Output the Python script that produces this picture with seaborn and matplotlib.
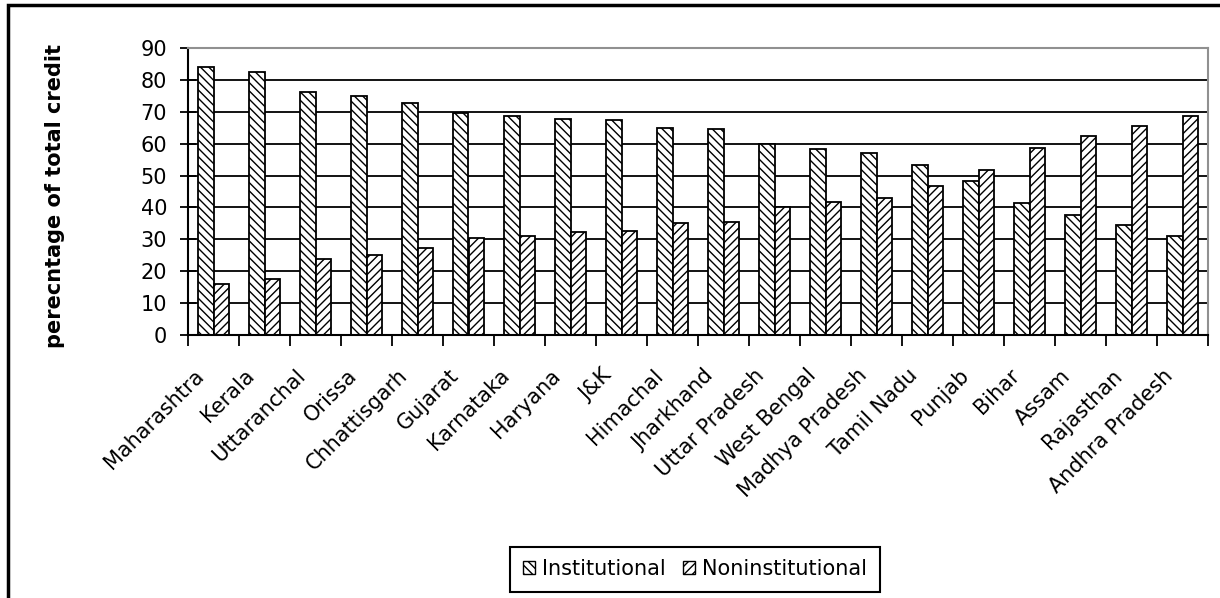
"""
Institutional vs non-institutional credit by state
"""

import pandas as pd
import seaborn as sns
import matplotlib.pyplot as plt
from matplotlib.patches import Patch, Rectangle
from matplotlib.transforms import ScaledTranslation

states = ["Maharashtra", "Kerala", "Uttaranchal", "Orissa", "Chhattisgarh",
          "Gujarat", "Karnataka", "Haryana", "J&K", "Himachal", "Jharkhand",
          "Uttar Pradesh", "West Bengal", "Madhya Pradesh", "Tamil Nadu",
          "Punjab", "Bihar", "Assam", "Rajasthan", "Andhra Pradesh"]
institutional = [84.0, 82.5, 76.3, 75.0, 72.6, 69.5, 68.8, 67.6, 67.5, 65.0,
                 64.5, 60.0, 58.2, 57.0, 53.2, 48.2, 41.5, 37.5, 34.4, 31.2]
noninstitutional = [16.0, 17.5, 23.7, 25.0, 27.4, 30.5, 31.2, 32.4, 32.5, 35.0,
                    35.5, 40.0, 41.8, 43.0, 46.8, 51.8, 58.5, 62.5, 65.6, 68.8]
series = ["Institutional", "Noninstitutional"]
hatches = ["\\\\\\\\", "////"]
yticks = list(range(0, 100, 10))

df = pd.DataFrame({
    "state": states * 2,
    "pct": institutional + noninstitutional,
    "type": [series[0]] * len(states) + [series[1]] * len(states),
})

sns.set_style("white", {"text.color": "black", "xtick.color": "black",
                        "ytick.color": "black", "axes.labelcolor": "black"})
plt.rcParams["font.family"] = ["DejaVu Sans"]
plt.rcParams["hatch.linewidth"] = 1.0

fig = plt.figure(figsize=(12.2, 5.98), dpi=100)
ax = fig.add_axes([188 / 1220, 1 - 335 / 598, 1020 / 1220, 287 / 598])

sns.barplot(data=df, x="state", y="pct", hue="type", order=states,
            hue_order=series, palette=["white", "white"], edgecolor="black",
            linewidth=1.3, width=0.62, saturation=1, legend=False, ax=ax)

# штриховка для каждой серии
for cont, h in zip(ax.containers, hatches):
    for bar in cont:
        bar.set_hatch(h)

ax.set_xlim(-0.5, len(states) - 0.5)
ax.set_ylim(0, 90)
ax.set_yticks(yticks)
ax.yaxis.grid(True, color="black", lw=1.3)
ax.set_axisbelow(True)

ax.set_xticks(range(len(states)))
ax.set_xticks([i - 0.5 for i in range(len(states) + 1)], minor=True)
ax.set_xticklabels(states, rotation=45, ha="right", va="center",
                   rotation_mode="anchor", fontsize=15, color="black")
ax.tick_params(axis="x", which="major", length=0, pad=27)
ax.tick_params(axis="x", which="minor", length=8, width=1.3,
               direction="out", color="black", bottom=True)
ax.tick_params(axis="y", length=12, width=1.3, direction="inout",
               color="black", labelcolor="black", labelsize=15, pad=9,
               left=True)
for lbl in ax.get_xticklabels():
    lbl.set_transform(lbl.get_transform() +
                      ScaledTranslation(-0.13, 0, fig.dpi_scale_trans))

for side in ["left", "bottom"]:
    ax.spines[side].set_color("black")
    ax.spines[side].set_linewidth(1.5)
for side in ["top", "right"]:
    ax.spines[side].set_color("#909090")
    ax.spines[side].set_linewidth(1.5)

ax.set_xlabel("")
ax.set_ylabel("perecntage of total credit", fontsize=15, fontweight="bold",
              color="black")
ax.yaxis.set_label_coords(-0.1206, 0.485)

handles = [Patch(facecolor="white", edgecolor="black", hatch=h, lw=1.0)
           for h in hatches]
leg = fig.legend(handles, series, loc="center", ncol=2, fontsize=15,
                 bbox_to_anchor=(695 / 1220, 1 - 569 / 598),
                 frameon=True, fancybox=False, handlelength=0.6,
                 handleheight=0.6, handletextpad=0.35, columnspacing=0.8,
                 borderpad=0.6, borderaxespad=0)
leg.get_frame().set_edgecolor("black")
leg.get_frame().set_linewidth(1.5)
leg.get_frame().set_alpha(1)

# рамка вокруг всей картинки
fig.patches.append(Rectangle((8 / 1220, -0.1), 1.2, 0.1 + 1 - 5 / 598,
                             transform=fig.transFigure, fill=False,
                             lw=2.5, edgecolor="black"))

fig.savefig("out.png", dpi=100)
